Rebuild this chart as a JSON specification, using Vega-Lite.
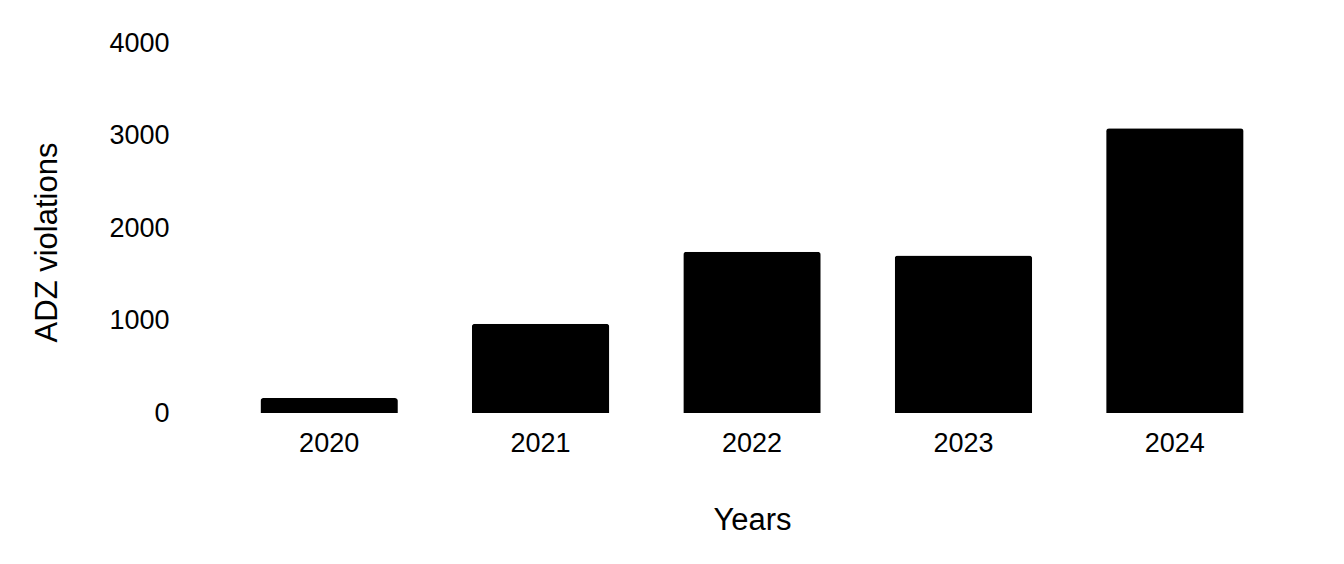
{
  "$schema": "https://vega.github.io/schema/vega-lite/v6.json",
  "autosize": "none",
  "padding": {"left": 197, "top": 43, "right": 37, "bottom": 151},
  "width": 1110,
  "height": 370,
  "background": "white",
  "config": {
    "view": {"stroke": null},
    "font": "Liberation Sans"
  },
  "data": {
    "values": [
      {"year": "2020", "violations": 162},
      {"year": "2021", "violations": 965},
      {"year": "2022", "violations": 1742},
      {"year": "2023", "violations": 1702},
      {"year": "2024", "violations": 3078}
    ]
  },
  "mark": {"type": "bar", "color": "#000000", "cornerRadiusTopLeft": 3, "cornerRadiusTopRight": 3},
  "encoding": {
    "x": {
      "field": "year",
      "type": "ordinal",
      "scale": {"paddingInner": 0.35, "paddingOuter": 0.3},
      "axis": {
        "title": "Years",
        "labelAngle": 0,
        "domain": false,
        "ticks": false,
        "tickSize": 0,
        "labelFont": "Liberation Sans",
        "labelFontSize": 27,
        "labelColor": "#000000",
        "labelBaseline": "alphabetic",
        "labelPadding": 38,
        "titleFont": "Liberation Sans",
        "titleFontSize": 31,
        "titleFontWeight": "normal",
        "titleColor": "#000000",
        "titleBaseline": "alphabetic",
        "titleY": 116
      }
    },
    "y": {
      "field": "violations",
      "type": "quantitative",
      "scale": {"domain": [0, 4000]},
      "axis": {
        "title": "ADZ violations",
        "values": [0, 1000, 2000, 3000, 4000],
        "format": "d",
        "grid": false,
        "domain": false,
        "ticks": false,
        "tickSize": 0,
        "labelFont": "Liberation Sans",
        "labelFontSize": 27,
        "labelColor": "#000000",
        "labelPadding": 28,
        "labelBaseline": "middle",
        "titleFont": "Liberation Sans",
        "titleFontSize": 31,
        "titleFontWeight": "normal",
        "titleColor": "#000000",
        "titleAngle": -90,
        "titleAlign": "center",
        "titleBaseline": "alphabetic",
        "titleX": -141,
        "titleY": 199
      }
    }
  }
}
